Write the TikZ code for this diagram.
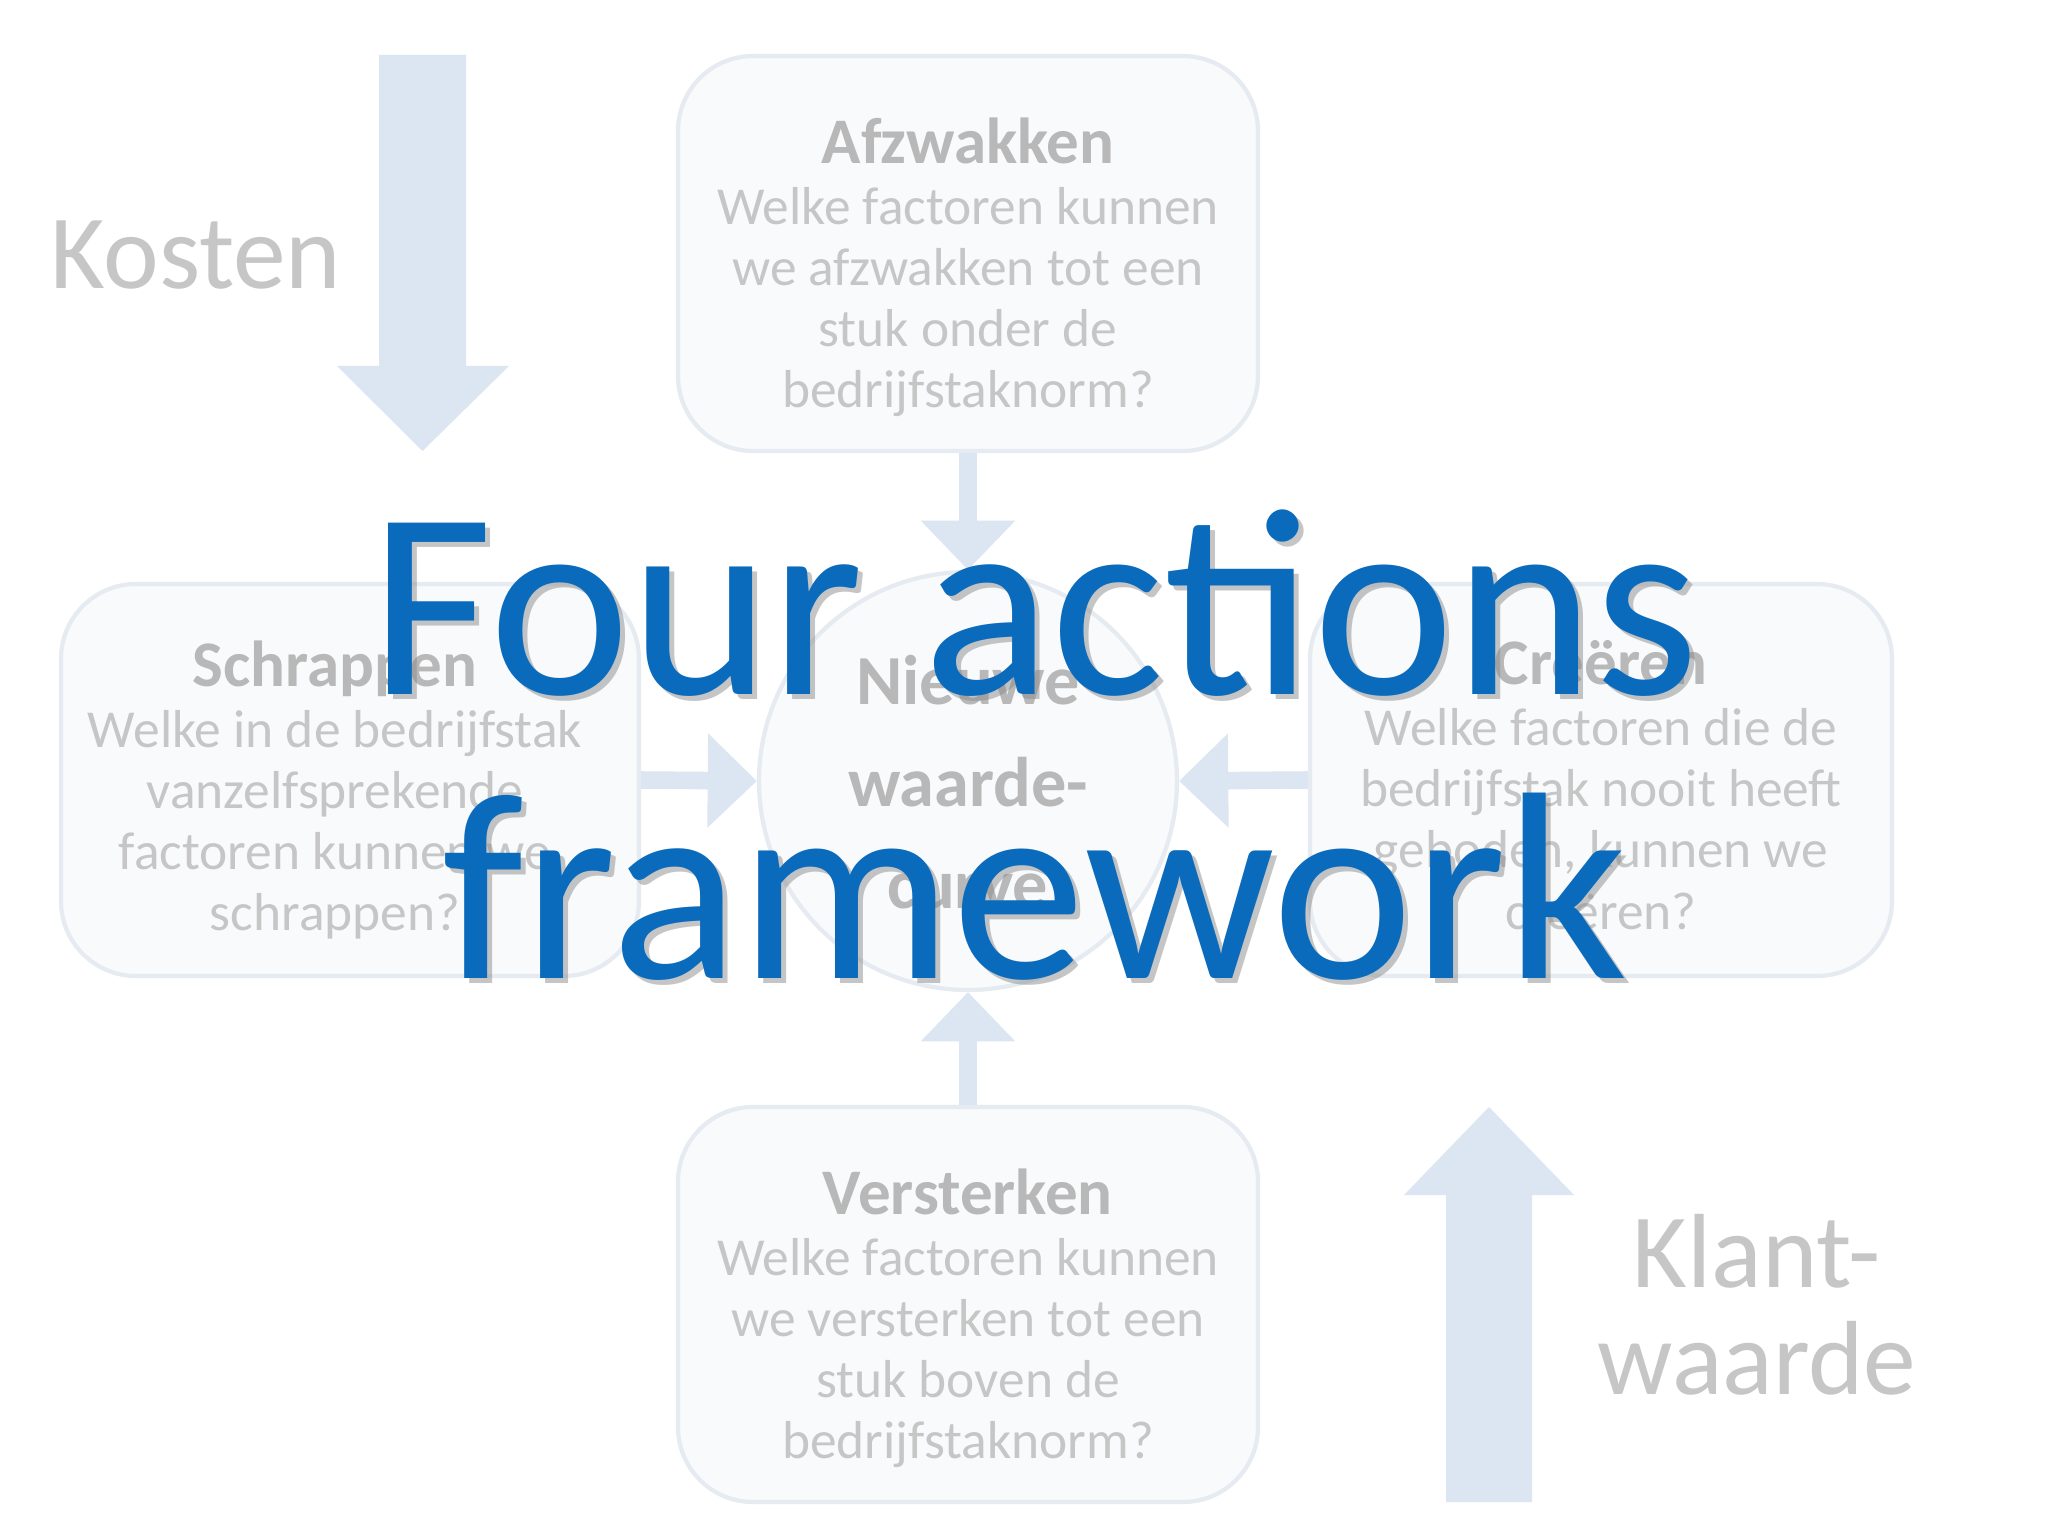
\documentclass[tikz,border=0pt]{standalone}
\usepackage{fontspec}
\setmainfont{Carlito}
\usetikzlibrary{arrows.meta}
\definecolor{arr}{HTML}{DCE6F2}
\definecolor{boxfill}{HTML}{F8FAFC}
\definecolor{boxline}{HTML}{E6EBF1}
\definecolor{txt}{HTML}{C6C6C6}
\definecolor{ttl}{HTML}{B8B8B8}
\definecolor{blue1}{HTML}{0A6BBD}
\tikzset{
 card/.style={draw=boxline,line width=1.2pt,fill=boxfill,rounded corners=0.75cm,inner sep=0},
 bodytxt/.style={text=txt,align=center,font=\fontsize{15.2}{17.4}\selectfont},
 smallarr/.style={draw=arr,line width=5pt,-{Triangle[length=14pt,width=26pt]}},
}
\begin{document}
\begin{tikzpicture}
\useasboundingbox[fill=white] (0,0) rectangle (20.48,-15.36);
% cards
\node[card,minimum width=5.80cm,minimum height=3.95cm] (af) at (9.68,-2.535) {};
\node[card,minimum width=5.78cm,minimum height=3.92cm] (sc) at (3.50,-7.80) {};
\node[card,minimum width=5.82cm,minimum height=3.92cm] (cr) at (16.01,-7.80) {};
\node[card,minimum width=5.80cm,minimum height=3.95cm] (ve) at (9.68,-13.045) {};
\node[circle,draw=boxline,line width=1.2pt,fill=boxfill,minimum size=4.18cm] (c) at (9.68,-7.81) {};
% small arrows
\draw[smallarr] (af.south) -- (c.north);
\draw[smallarr] (sc.east) -- (c.west);
\draw[smallarr] (cr.west) -- (c.east);
\draw[smallarr] (ve.north) -- (c.south);
% card texts
\node[bodytxt,anchor=north] at (9.68,-1.05) {{\fontsize{18.5}{20}\selectfont\bfseries\color{ttl}Afzwakken}\\Welke factoren kunnen\\we afzwakken tot een\\stuk onder de\\bedrijfstaknorm?};
\node[bodytxt,anchor=north] at (3.35,-6.28) {{\fontsize{18.5}{20}\selectfont\bfseries\color{ttl}Schrappen}\\Welke in de bedrijfstak\\vanzelfsprekende\\factoren kunnen we\\schrappen?};
\node[bodytxt,anchor=north] at (16.01,-6.28) {{\fontsize{18.5}{20}\selectfont\bfseries\color{ttl}Creëren}\\Welke factoren die de\\bedrijfstak nooit heeft\\geboden, kunnen we\\creëren?};
\node[bodytxt,anchor=north] at (9.68,-11.56) {{\fontsize{18.5}{20}\selectfont\bfseries\color{ttl}Versterken}\\Welke factoren kunnen\\we versterken tot een\\stuk boven de\\bedrijfstaknorm?};
\node[text=ttl,align=center,font=\fontsize{20}{29}\selectfont\bfseries] (cl) at (9.68,-7.82) {Nieuwe\\waarde-\\curve};
% big arrows
\fill[arr] (3.79,-0.55) -- (4.66,-0.55) -- (4.66,-3.66) -- (5.09,-3.66) -- (4.225,-4.51) -- (3.37,-3.66) -- (3.79,-3.66) -- cycle;
\fill[arr] (14.46,-15.02) -- (15.32,-15.02) -- (15.32,-11.95) -- (15.74,-11.95) -- (14.89,-11.07) -- (14.04,-11.95) -- (14.46,-11.95) -- cycle;
\node[text=txt,font=\fontsize{30}{36}\selectfont] (ko) at (1.96,-2.55) {Kosten};
\node[text=txt,align=center,font=\fontsize{30}{30.5}\selectfont] (kl) at (17.57,-13.05) {Klant-\\waarde};
% title
\node[text=black!45,opacity=0.5,align=center,font=\fontsize{76}{81}\selectfont] at (10.40,-7.50) {Four actions\\framework};
\node[text=blue1,align=center,font=\fontsize{76}{81}\selectfont] (t) at (10.35,-7.45) {Four actions\\framework};
\end{tikzpicture}
\end{document}
